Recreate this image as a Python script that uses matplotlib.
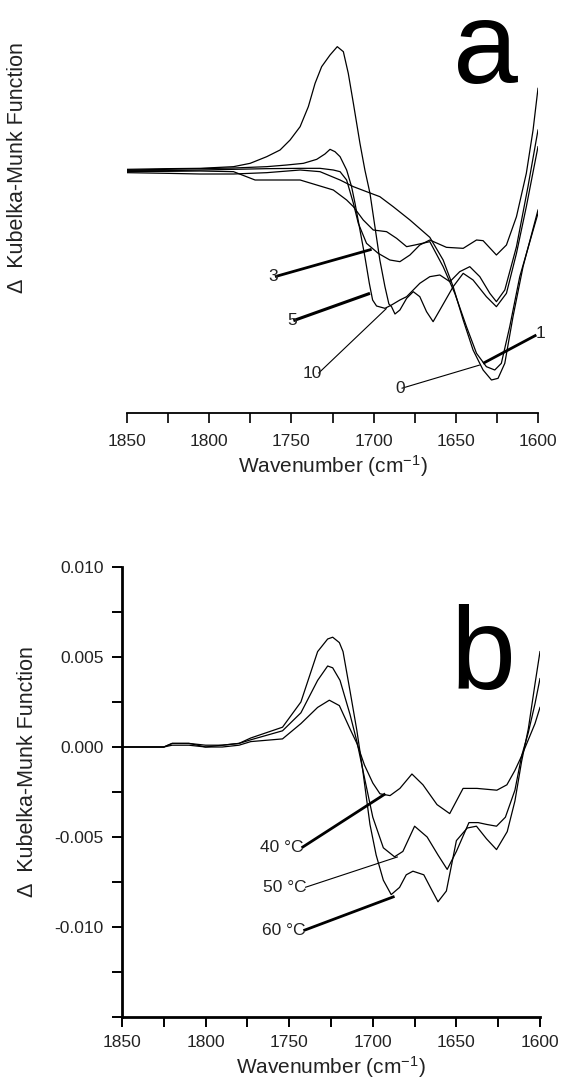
import matplotlib
matplotlib.use('Agg')
import matplotlib.pyplot as plt
from matplotlib.ticker import MultipleLocator, FormatStrFormatter

plt.rcParams['font.family'] = ['Liberation Sans', 'DejaVu Sans']
plt.rcParams['mathtext.default'] = 'regular'

# ---- panel a: difference spectra vs time (arbitrary units) ----
wn_a10 = [1850.0, 1825.7, 1805.5, 1785.2, 1775.1, 1765.0, 1756.9, 1750.8, 1744.7, 1739.7, 1735.6,
          1731.6, 1726.5, 1722.1, 1718.4, 1715.4, 1712.3, 1708.3, 1705.3, 1702.2, 1699.2, 1696.2,
          1693.1, 1690.7, 1689.1, 1687.0, 1684.0, 1679.9, 1675.9, 1671.9, 1667.8, 1663.8, 1659.7,
          1651.6, 1645.5, 1639.5, 1631.4, 1625.3, 1619.2, 1613.1, 1607.1, 1600.0]
km_a10 = [0.02, 0.04, 0.05, 0.10, 0.20, 0.40, 0.60, 0.90, 1.30, 1.90, 2.60,
          3.10, 3.45, 3.70, 3.55, 2.90, 2.00, 0.80, 0.00, -0.70, -1.70, -2.70,
          -3.50, -4.02, -4.10, -4.32, -4.20, -3.85, -3.65, -3.80, -4.25, -4.55, -4.20,
          -3.50, -3.10, -3.30, -3.80, -4.10, -3.70, -2.50, -1.10, 0.70]

wn_a5 = [1850.0, 1825.7, 1805.5, 1785.2, 1765.0, 1752.8, 1742.7, 1734.6, 1729.6, 1726.5, 1723.5,
         1720.4, 1716.4, 1713.4, 1711.3, 1708.3, 1705.3, 1702.6, 1700.6, 1698.2, 1693.1, 1689.1,
         1684.0, 1679.9, 1671.9, 1665.8, 1659.7, 1653.6, 1647.6, 1641.5, 1635.4, 1629.3, 1625.3,
         1620.2, 1613.1, 1606.1, 1600.0]
km_a5 = [0.00, 0.02, 0.04, 0.06, 0.10, 0.15, 0.20, 0.32, 0.48, 0.62, 0.55,
         0.40, 0.00, -0.50, -1.00, -1.80, -2.60, -3.40, -3.90, -4.08, -4.15, -4.05,
         -3.90, -3.80, -3.40, -3.20, -3.15, -3.35, -3.05, -2.90, -3.20, -3.70, -3.95,
         -3.60, -2.30, -0.50, 1.20]

wn_a3 = [1850.0, 1825.7, 1805.5, 1785.2, 1765.0, 1744.7, 1732.6, 1724.5, 1720.4, 1716.4, 1712.3,
         1709.3, 1704.3, 1697.2, 1690.1, 1684.0, 1677.9, 1671.9, 1665.8, 1655.7, 1645.5, 1637.4,
         1633.4, 1625.3, 1619.2, 1613.1, 1607.1, 1603.0, 1600.0]
km_a3 = [-0.02, -0.02, 0.00, 0.02, 0.04, 0.05, 0.05, 0.00, -0.05, -0.30, -1.00,
         -1.60, -2.20, -2.50, -2.70, -2.75, -2.55, -2.25, -2.10, -2.32, -2.35, -2.10,
         -2.12, -2.55, -2.25, -1.40, -0.10, 1.20, 2.45]

wn_a1 = [1850.0, 1825.7, 1805.5, 1785.2, 1772.1, 1760.9, 1744.7, 1724.5, 1716.4, 1712.3, 1706.3,
         1700.2, 1692.1, 1686.0, 1679.9, 1674.9, 1665.8, 1657.7, 1650.6, 1643.5, 1637.4, 1631.4,
         1626.3, 1622.3, 1617.2, 1611.1, 1600.0]
km_a1 = [-0.05, -0.04, -0.03, -0.05, -0.30, -0.30, -0.30, -0.60, -0.90, -1.10, -1.50,
         -1.80, -1.85, -2.05, -2.30, -2.25, -2.15, -2.90, -3.70, -4.70, -5.50, -5.90,
         -6.00, -5.80, -4.70, -3.20, -1.30]

wn_a0 = [1850.0, 1825.7, 1805.5, 1785.2, 1765.0, 1744.7, 1732.6, 1720.4, 1712.3, 1704.3, 1696.2,
         1688.1, 1677.9, 1665.8, 1657.7, 1651.6, 1645.5, 1639.5, 1633.4, 1628.3, 1624.3, 1620.2,
         1615.2, 1609.1, 1600.0]
km_a0 = [-0.08, -0.10, -0.12, -0.12, -0.08, 0.00, -0.05, -0.30, -0.50, -0.65, -0.80,
         -1.10, -1.50, -2.02, -2.70, -3.50, -4.50, -5.40, -6.00, -6.30, -6.25, -5.80,
         -4.40, -2.90, -1.20]

# labels of panel a: text, text anchor, leader end, leader width
labels_a = ['3', '5', '10', '0', '1']
lab_a_xy = [(1760.0, -3.20), (1748.8, -4.52), (1733.6, -6.10), (1683.0, -6.55), (1601.0, -4.95)]
lab_a_end = [(1701.2, -2.38), (1702.2, -3.70), (1692.1, -4.15), (1635.4, -5.85), (1633.4, -5.80)]
lab_a_lw = [2.0, 2.2, 0.8, 0.8, 2.0]

# ---- panel b: difference spectra vs temperature ----
wn_b60 = [1850, 1825, 1820, 1810, 1800, 1790, 1780, 1773, 1754, 1743, 1733, 1727, 1724, 1720,
          1717.8, 1713.6, 1709.5, 1706, 1701.7, 1698, 1693.7, 1689, 1684, 1680, 1676, 1669.5,
          1665, 1661, 1656, 1650, 1643.5, 1638, 1632, 1626, 1619.6, 1615, 1611, 1607, 1603, 1600]
km_b60 = [0.0, 0.0, 0.0002, 0.0002, 0.0, 0.0001, 0.0002, 0.0005, 0.0011, 0.0025, 0.0053, 0.0060,
          0.0061, 0.0058, 0.0053, 0.0031, 0.0009, -0.0013, -0.0043, -0.0060, -0.0074, -0.0082,
          -0.0078, -0.0071, -0.0069, -0.0071, -0.0079, -0.0086, -0.0080, -0.0052, -0.0045,
          -0.0044, -0.0051, -0.0057, -0.0047, -0.0030, -0.0008, 0.0010, 0.0035, 0.0053]

wn_b50 = [1850, 1825, 1820, 1810, 1800, 1790, 1780, 1773, 1754, 1743, 1733, 1727, 1724, 1719.6,
          1713.6, 1709.5, 1705, 1700, 1693.7, 1687, 1682, 1675, 1667.5, 1661, 1655.5, 1650,
          1642.5, 1637, 1632, 1626, 1620.7, 1615, 1611, 1607, 1603, 1600]
km_b50 = [0.0, 0.0, 0.0002, 0.0002, 0.0001, 0.0001, 0.0002, 0.0004, 0.0009, 0.0019, 0.0037,
          0.0045, 0.0044, 0.0037, 0.0018, 0.0003, -0.0017, -0.0039, -0.0056, -0.0061, -0.0058,
          -0.0044, -0.0050, -0.0060, -0.0068, -0.0058, -0.0042, -0.0042, -0.0043, -0.0044,
          -0.0039, -0.0024, -0.0005, 0.0008, 0.0024, 0.0038]

wn_b40 = [1850, 1825, 1820, 1810, 1800, 1790, 1780, 1773, 1754, 1743, 1733, 1726, 1720, 1713.6,
          1709.5, 1705, 1700, 1695.7, 1689.7, 1683.8, 1676.6, 1670, 1661.6, 1654, 1646, 1637.7,
          1625.8, 1619.8, 1615, 1611, 1607, 1603, 1600]
km_b40 = [0.0, 0.0, 0.0001, 0.0001, 0.0, 0.0, 0.0001, 0.0003, 0.00045, 0.0013, 0.0022, 0.0026,
          0.0023, 0.0010, 0.0002, -0.0010, -0.0020, -0.0026, -0.0027, -0.0023, -0.0015, -0.0021,
          -0.0032, -0.0037, -0.0023, -0.0023, -0.0024, -0.0021, -0.0013, -0.0005, 0.0004,
          0.0013, 0.0022]

labels_b = ['40 \u00b0C', '50 \u00b0C', '60 \u00b0C']
lab_b_xy = [(1742.6, -0.0056), (1740.5, -0.0078), (1741.5, -0.0102)]
lab_b_end = [(1692.5, -0.0026), (1685.0, -0.0061), (1687.0, -0.0083)]
lab_b_lw = [2.0, 0.8, 2.0]

W, H = 563, 1087
fig = plt.figure(figsize=(W / 100, H / 100), dpi=100)

txt_col = '#222222'
fs_tick = 12.5
ylab = '\u0394  Kubelka-Munk Function'

# ---------------- panel a ----------------
ax = fig.add_axes([127 / W, 1 - 413 / H, 411 / W, 413 / H])
for wn, km in [(wn_a10, km_a10), (wn_a5, km_a5), (wn_a3, km_a3), (wn_a1, km_a1), (wn_a0, km_a0)]:
    ax.plot(wn, km, color='black', lw=0.9)
for t, (tx, ty), (ex, ey), lw in zip(labels_a, lab_a_xy, lab_a_end, lab_a_lw):
    ax.plot([tx, ex], [ty, ey], color='black', lw=lw, solid_capstyle='butt')
    if t == '1':
        ax.text(tx + 0.5, ty + 0.05, t, ha='left', va='center', fontsize=fs_tick, color=txt_col)
    else:
        ax.text(tx - 2, ty, t, ha='right', va='center', fontsize=fs_tick, color=txt_col)
ax.text(1632, 2.60, 'a', ha='center', va='baseline', fontsize=84, color='black')
ax.set_xlim(1850, 1600)
ax.set_ylim(-7.29, 5.1)
for s in ['left', 'top', 'right']:
    ax.spines[s].set_visible(False)
ax.spines['bottom'].set_linewidth(1.3)
ax.set_yticks([])
ax.xaxis.set_major_locator(MultipleLocator(50))
ax.xaxis.set_minor_locator(MultipleLocator(25))
ax.tick_params(axis='x', which='both', direction='out', length=7, width=1.2,
               labelsize=fs_tick, labelcolor=txt_col, pad=8)
ax.set_xlabel('Wavenumber (cm$^{-1}$)', fontsize=15, color=txt_col, labelpad=3)
fig.text(18 / W, 1 - 168 / H, ylab, rotation=90,
         ha='center', va='center', fontsize=15.5, color=txt_col)

# ---------------- panel b ----------------
bx = fig.add_axes([122 / W, 1 - 1017 / H, 418 / W, 450 / H])
for wn, km in [(wn_b60, km_b60), (wn_b50, km_b50), (wn_b40, km_b40)]:
    bx.plot(wn, km, color='black', lw=0.9)
for t, (tx, ty), (ex, ey), lw in zip(labels_b, lab_b_xy, lab_b_end, lab_b_lw):
    bx.plot([tx, ex], [ty, ey], color='black', lw=lw, solid_capstyle='butt')
    bx.text(tx - 1, ty, t, ha='right', va='center', fontsize=fs_tick, color=txt_col)
bx.text(1634, 0.0032, 'b', ha='center', va='baseline', fontsize=84, color='black')
bx.set_xlim(1850, 1600)
bx.set_ylim(-0.015, 0.010)
for s in ['top', 'right']:
    bx.spines[s].set_visible(False)
for s in ['left', 'bottom']:
    bx.spines[s].set_linewidth(2)
bx.xaxis.set_major_locator(MultipleLocator(50))
bx.xaxis.set_minor_locator(MultipleLocator(25))
bx.yaxis.set_minor_locator(MultipleLocator(0.0025))
bx.yaxis.set_major_formatter(FormatStrFormatter('%.3f'))
bx.set_yticks([-0.010, -0.005, 0.0, 0.005, 0.010])
bx.tick_params(axis='both', which='both', direction='out', length=7, width=1.4,
               labelsize=fs_tick, labelcolor=txt_col, pad=6)
bx.set_xlabel('Wavenumber (cm$^{-1}$)', fontsize=15, color=txt_col, labelpad=3)
fig.text(28 / W, 1 - 772 / H, ylab, rotation=90,
         ha='center', va='center', fontsize=15.5, color=txt_col)

fig.savefig('out.png', dpi=100, facecolor='white')
